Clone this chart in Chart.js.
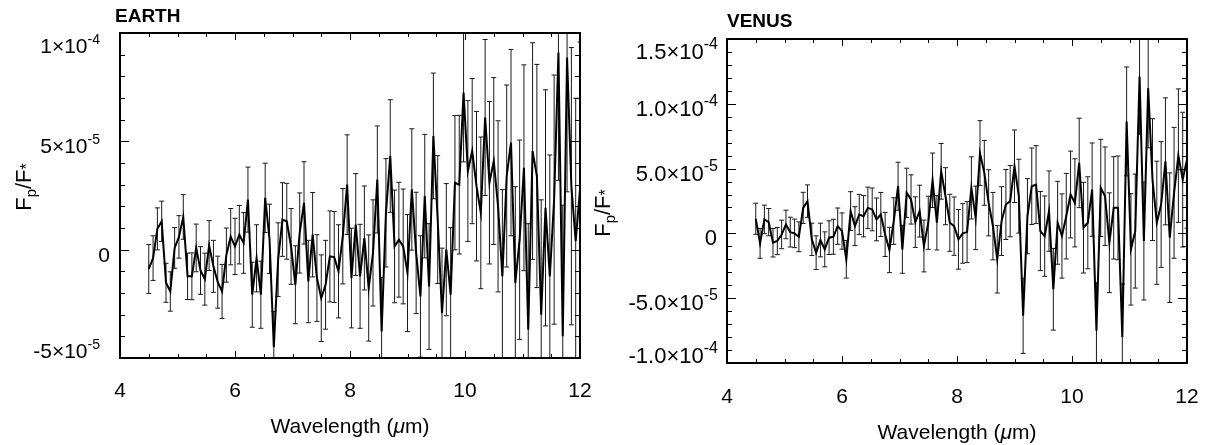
<!DOCTYPE html>
<html>
<head>
<meta charset="utf-8">
<title>Earth / Venus Fp/F* spectra</title>
<script src="https://cdn.jsdelivr.net/npm/chart.js@4.4.1/dist/chart.umd.min.js"></script>
<style>
  html, body { margin: 0; padding: 0; background: #fff; }
  #page { position: relative; width: 1210px; height: 445px; overflow: hidden; }
  #earthChart { position: absolute; left: 0; top: 0; }
  #venusChart { position: absolute; left: 585px; top: 0; }
</style>
</head>
<body>
<div id="page">
  <canvas id="earthChart" width="600" height="445"></canvas>
  <canvas id="venusChart" width="625" height="445"></canvas>
</div>
<script>
// Wavelength grid (microns), shared by both panels
const wavelength = [
  4.500, 4.575, 4.650, 4.725, 4.800, 4.875, 4.950, 5.025, 5.100, 5.175,
  5.250, 5.325, 5.400, 5.475, 5.550, 5.625, 5.700, 5.775, 5.850, 5.925,
  6.000, 6.075, 6.150, 6.225, 6.300, 6.375, 6.450, 6.525, 6.600, 6.675,
  6.750, 6.825, 6.900, 6.975, 7.050, 7.125, 7.200, 7.275, 7.350, 7.425,
  7.500, 7.575, 7.650, 7.725, 7.800, 7.875, 7.950, 8.025, 8.100, 8.175,
  8.250, 8.325, 8.400, 8.475, 8.550, 8.625, 8.700, 8.775, 8.850, 8.925,
  9.000, 9.075, 9.150, 9.225, 9.300, 9.375, 9.450, 9.525, 9.600, 9.675,
  9.750, 9.825, 9.900, 9.975, 10.050, 10.125, 10.200, 10.275, 10.350, 10.425,
  10.500, 10.575, 10.650, 10.725, 10.800, 10.875, 10.950, 11.025, 11.100, 11.175,
  11.250, 11.325, 11.400, 11.475, 11.550, 11.625, 11.700, 11.775, 11.850, 11.925,
  12.000
];

// Earth Fp/F* in units of 1e-5
const earthFlux = [
  -0.89, -0.39, 0.96, 1.31, -1.53, -1.93, 0.08, 0.59, 1.51, -1.23,
  -1.23, 0.08, -0.96, -1.36, 0.19, -0.77, -1.50, -1.93, -0.25, 0.60,
  0.15, 0.69, 0.31, 2.31, -2.08, -0.40, -2.08, 2.39, 0.50, -4.50,
  -0.46, 1.39, 1.31, 0.15, -1.62, 0.77, 2.16, -1.47, 0.69, -1.31,
  -2.24, -1.62, -0.31, -0.34, -1.00, 0.62, 3.00, -1.31, 1.16, -1.23,
  0.54, -1.77, -0.15, 3.24, -3.78, 1.70, 4.32, 0.15, 0.46, 0.15,
  -1.08, 2.78, -0.15, -2.16, 2.47, -1.70, 5.25, 1.39, -2.93, 0.00,
  -2.08, 3.09, 3.00, 7.25, 3.63, 4.55, 2.93, 1.70, 6.10, 3.09,
  4.09, 2.00, -1.23, 3.40, 4.94, -1.54, 0.46, 3.78, -3.70, 4.55,
  3.40, -3.00, 1.93, -1.23, 2.31, 9.10, -4.00, 8.87, 2.93, 0.39,
  2.78
];
const earthErr = [
  1.13, 1.03, 0.97, 0.93, 0.90, 0.91, 0.94, 0.98, 1.03, 1.07,
  1.08, 1.10, 1.10, 1.20, 1.15, 1.20, 1.20, 1.25, 1.25, 1.30,
  1.30, 1.35, 1.40, 1.50, 1.50, 1.55, 1.55, 1.60, 1.60, 1.65,
  1.70, 1.70, 1.75, 1.75, 1.80, 1.85, 1.90, 1.90, 1.95, 2.00,
  2.00, 2.05, 2.10, 2.10, 2.15, 2.20, 2.30, 2.30, 2.35, 2.40,
  2.40, 2.45, 2.45, 2.47, 2.50, 2.50, 2.60, 2.60, 2.65, 2.65,
  2.70, 2.80, 2.80, 2.80, 2.85, 2.90, 2.90, 2.95, 3.00, 3.05,
  3.10, 3.10, 3.20, 3.20, 3.25, 3.35, 3.45, 3.50, 3.60, 3.75,
  3.85, 3.95, 4.00, 4.20, 4.30, 4.45, 4.60, 4.75, 4.90, 5.00,
  5.15, 5.30, 5.45, 5.60, 5.75, 5.90, 6.05, 6.20, 6.40, 6.60,
  6.80
];

// Venus Fp/F* in units of 1e-5
const venusFlux = [
  1.13, -0.77, 1.08, 0.87, -0.72, -0.59, -0.08, 0.69, 0.10, 0.00,
  -0.26, 1.97, 2.49, -0.46, -1.49, -0.51, -1.23, -0.33, -0.26, 0.56,
  0.18, -2.00, 1.72, 0.56, 1.46, 1.33, 1.97, 1.85, 1.08, 1.46,
  -0.08, -1.28, 0.95, 3.64, -1.23, 3.13, 2.62, 0.87, 1.72, -0.97,
  0.82, 4.10, 0.82, 4.79, 2.87, 0.82, 0.56, -0.46, 0.00, 0.10,
  3.51, 1.20, 6.20, 4.67, 2.36, 0.56, -2.00, 0.95, 2.23, 2.49,
  5.18, 2.87, -6.36, 1.33, 3.64, 3.77, 0.18, -0.21, 1.72, -4.31,
  0.82, -0.20, 1.33, 3.00, 2.36, 5.44, 0.44, 0.82, 3.38, -7.50,
  3.51, 2.87, -0.72, 1.97, 1.97, -8.00, 8.64, -1.23, 0.18, 12.10,
  -0.59, 11.20, 4.15, 0.82, 2.23, 5.56, -0.33, 3.13, 6.00, 4.15,
  5.70
];
const venusErr = [
  1.20, 1.15, 1.10, 1.05, 1.10, 1.05, 1.10, 1.10, 1.15, 1.10,
  1.15, 1.20, 1.25, 1.25, 1.30, 1.30, 1.35, 1.30, 1.35, 1.40,
  1.40, 1.45, 1.50, 1.50, 1.55, 1.60, 1.60, 1.65, 1.65, 1.70,
  1.70, 1.75, 1.80, 1.85, 1.85, 1.90, 1.90, 1.95, 2.00, 2.00,
  2.05, 2.10, 2.10, 2.15, 2.20, 2.20, 2.25, 2.30, 2.30, 2.35,
  2.40, 2.45, 2.50, 2.50, 2.55, 2.60, 2.60, 2.65, 2.70, 2.75,
  2.80, 2.85, 2.90, 2.90, 2.95, 3.00, 3.05, 3.10, 3.10, 3.15,
  3.20, 3.25, 3.30, 3.35, 3.40, 3.45, 3.50, 3.55, 3.60, 3.70,
  3.75, 3.80, 3.85, 3.95, 4.00, 4.10, 4.20, 4.30, 4.40, 4.45,
  4.55, 4.60, 4.70, 4.75, 4.85, 4.90, 5.00, 5.05, 5.15, 5.20,
  5.30
];

// Axis tick labels ("^" marks the exponent part)
const earthTickValues = [-5e-5, 0, 5e-5, 1e-4];
const earthTickLabels = ['-5×10^-5', '0', '5×10^-5', '1×10^-4'];
const venusTickValues = [-1e-4, -5e-5, 0, 5e-5, 1e-4, 1.5e-4];
const venusTickLabels = ['-1.0×10^-4', '-5.0×10^-5', '0', '5.0×10^-5', '1.0×10^-4', '1.5×10^-4'];
const xTickStep = 2;

const FONT = "'Liberation Sans', Arial, Helvetica, sans-serif";

/**
 * Draws a label like "5×10^-5" with a raised exponent, right aligned at xRight
 */
function drawPowerLabel(ctx, label, xRight, baseline, o) {
    const parts = label.split('^');
    ctx.font = o.labelSize + 'px ' + FONT;
    const wBase = ctx.measureText(parts[0]).width;
    let wExp = 0;
    if (parts[1]) {
        ctx.font = o.expSize + 'px ' + FONT;
        wExp = ctx.measureText(parts[1]).width;
    }
    const x0 = xRight - wBase - wExp;
    ctx.textAlign = 'left';
    ctx.textBaseline = 'alphabetic';
    ctx.font = o.labelSize + 'px ' + FONT;
    ctx.fillText(parts[0], x0, baseline);
    if (parts[1]) {
        ctx.font = o.expSize + 'px ' + FONT;
        ctx.fillText(parts[1], x0 + wBase, baseline - o.expRise);
    }
}

// Draw a list of [text, font, dy] runs centred on x
function drawRuns(ctx, runs, cx, y) {
    let total = 0;
    runs.forEach(r => { ctx.font = r[1]; total += ctx.measureText(r[0]).width; });
    let x = cx - total / 2;
    ctx.textAlign = 'left';
    runs.forEach(r => {
        ctx.font = r[1];
        ctx.fillText(r[0], x, y + r[2]);
        x += ctx.measureText(r[0]).width;
    });
}

/**
 * IDL style axes: boxed frame, inward ticks, error bars and labels
 */
const idlAxes = {
    id: 'idlAxes',
    beforeDatasetsDraw(chart) {
        const ctx = chart.ctx;
        const a = chart.chartArea;
        const xs = chart.scales.x, ys = chart.scales.y;
        const ds = chart.data.datasets[0];

        ctx.save();
        ctx.beginPath();
        ctx.rect(a.left, a.top, a.right - a.left, a.bottom - a.top);
        ctx.clip();
        ctx.strokeStyle = '#1a1a1a';
        ctx.lineWidth = 1;
        ds.data.forEach((p, i) => {
            const e = ds.errors[i];
            const px = xs.getPixelForValue(p.x);
            const top = ys.getPixelForValue(p.y + e);
            const bot = ys.getPixelForValue(p.y - e);
            ctx.beginPath();
            ctx.moveTo(px, top);
            ctx.lineTo(px, bot);
            ctx.moveTo(px - 2.5, top);
            ctx.lineTo(px + 2.5, top);
            ctx.moveTo(px - 2.5, bot);
            ctx.lineTo(px + 2.5, bot);
            ctx.stroke();
        });
        ctx.restore();
    },
    afterDraw(chart, args, opts) {
        const ctx = chart.ctx;
        const a = chart.chartArea;
        const xs = chart.scales.x, ys = chart.scales.y;

        ctx.save();
        ctx.strokeStyle = '#000';
        ctx.fillStyle = '#000';

        // inward ticks on all four sides
        ctx.lineWidth = 1;
        ctx.beginPath();
        const nx = Math.round((xs.max - xs.min) / opts.xMinor);
        for (let k = 1; k < nx; k++) {
            const v = xs.min + k * opts.xMinor;
            const major = Math.abs(v / xTickStep - Math.round(v / xTickStep)) < 1e-6;
            const len = major ? 7 : 4;
            const px = Math.round(xs.getPixelForValue(v)) + 0.5;
            ctx.moveTo(px, a.bottom);
            ctx.lineTo(px, a.bottom - len);
            ctx.moveTo(px, a.top);
            ctx.lineTo(px, a.top + len);
        }
        const ny = Math.round((ys.max - ys.min) / opts.yMinor);
        for (let k = 1; k < ny; k++) {
            const v = ys.min + k * opts.yMinor;
            const major = opts.yTicks.some(t => Math.abs(t - v) < opts.yMinor / 100);
            const len = major ? 9 : 5;
            const py = Math.round(ys.getPixelForValue(v)) + 0.5;
            ctx.moveTo(a.left, py);
            ctx.lineTo(a.left + len, py);
            ctx.moveTo(a.right, py);
            ctx.lineTo(a.right - len, py);
        }
        ctx.stroke();

        // frame
        ctx.lineWidth = 2;
        ctx.strokeRect(a.left, a.top, a.right - a.left, a.bottom - a.top);

        // y tick labels, kept inside the axis span like IDL does
        opts.yTicks.forEach((v, i) => {
            const py = ys.getPixelForValue(v);
            const base = Math.min(a.bottom, Math.max(a.top + 20, py + 12));
            const label = opts.yLabels[i];
            const gap = label.indexOf('^') >= 0 ? opts.powerGap : opts.zeroGap;
            drawPowerLabel(ctx, label, a.left - gap, base, opts);
        });

        // y title F_p/F_*
        ctx.save();
        ctx.translate(opts.yTitleX, opts.yTitleY);
        ctx.rotate(-Math.PI / 2);
        ctx.textBaseline = 'alphabetic';
        drawRuns(ctx, [
            ['F', '22px ' + FONT, 0],
            ['p', '15px ' + FONT, 5],
            ['/F', '22px ' + FONT, 0],
            ['*', '16px ' + FONT, 1]
        ], 0, 0);
        ctx.restore();

        // x title
        ctx.textBaseline = 'middle';
        drawRuns(ctx, [
            ['Wavelength (', '21px ' + FONT, 0],
            ['\u03bc', 'italic 21px ' + FONT, 0],
            ['m)', '21px ' + FONT, 0]
        ], (a.left + a.right) / 2, opts.xTitleY);

        // panel title
        ctx.textBaseline = 'alphabetic';
        ctx.textAlign = 'left';
        ctx.font = 'bold 19px ' + FONT;
        ctx.fillText(opts.title, opts.titleX, opts.titleY);

        ctx.restore();
    }
};

function makeChart(canvasId, flux, err, cfg) {
    const ctx = document.getElementById(canvasId).getContext('2d');
    return new Chart(ctx, {
        type: 'line',
        data: {
            datasets: [{
                data: wavelength.map((w, i) => ({ x: w, y: flux[i] * 1e-5 })),
                errors: err.map(e => e * 1e-5),
                borderColor: '#000',
                borderWidth: 2,
                pointRadius: 0,
                tension: 0,
                fill: false
            }]
        },
        options: {
            responsive: false,
            animation: false,
            devicePixelRatio: 1,
            layout: { padding: cfg.padding },
            plugins: {
                legend: { display: false },
                tooltip: { enabled: false },
                idlAxes: cfg.axes
            },
            scales: {
                x: {
                    type: 'linear',
                    min: 4,
                    max: 12,
                    grid: { display: false, drawTicks: false },
                    border: { display: false },
                    ticks: {
                        stepSize: xTickStep,
                        color: '#000',
                        padding: cfg.xTickPadding,
                        maxRotation: 0,
                        font: { family: FONT, size: 21 }
                    },
                    afterFit: s => {
                        s.height = cfg.xHeight;
                        s.paddingLeft = 0;
                        s.paddingRight = 0;
                    }
                },
                y: {
                    type: 'linear',
                    min: cfg.yMin,
                    max: cfg.yMax,
                    grid: { display: false, drawTicks: false },
                    border: { display: false },
                    ticks: { display: false },
                    afterFit: s => {
                        s.width = cfg.yWidth;
                        s.paddingTop = 0;
                        s.paddingBottom = 0;
                    }
                }
            }
        },
        plugins: [idlAxes]
    });
}

makeChart('earthChart', earthFlux, earthErr, {
    padding: { top: 33, right: 20, bottom: 0, left: 0 },
    xHeight: 87,
    yWidth: 120,
    yMin: -5e-5,
    yMax: 1e-4,
    xTickPadding: 21,
    axes: {
        title: 'EARTH',
        titleX: 115,
        titleY: 22,
        yTicks: earthTickValues,
        yLabels: earthTickLabels,
        labelSize: 21,
        expSize: 14,
        expRise: 9,
        xMinor: 0.5,
        yMinor: 1e-5,
        powerGap: 20,
        zeroGap: 10,
        yTitleX: 31,
        yTitleY: 187,
        xTitleY: 427
    }
});

makeChart('venusChart', venusFlux, venusErr, {
    padding: { top: 39, right: 23, bottom: 0, left: 0 },
    xHeight: 82,
    yWidth: 142,
    yMin: -1e-4,
    yMax: 1.5e-4,
    xTickPadding: 22,
    axes: {
        title: 'VENUS',
        titleX: 142,
        titleY: 27,
        yTicks: venusTickValues,
        yLabels: venusTickLabels,
        labelSize: 22,
        expSize: 16,
        expRise: 10,
        xMinor: 0.5,
        yMinor: 1e-5,
        powerGap: 9,
        zeroGap: 10,
        yTitleX: 25,
        yTitleY: 213,
        xTitleY: 433
    }
});
</script>
</body>
</html>
